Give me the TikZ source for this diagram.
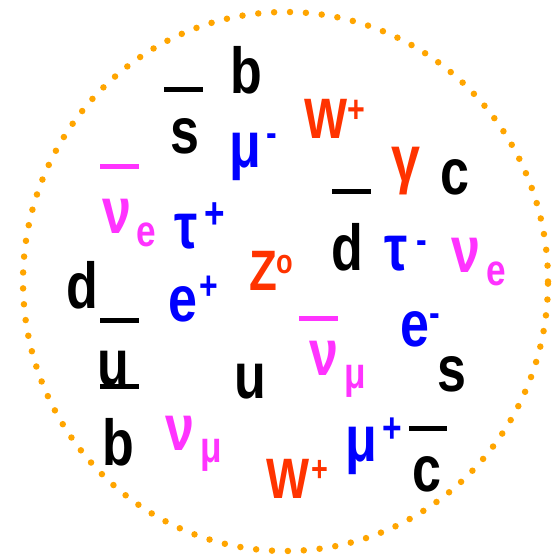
\documentclass[tikz,border=0pt]{standalone}
\usepackage{fontspec}
\setmainfont{Liberation Sans}[FakeStretch=0.8]
\usepackage{xcolor}
\usepackage{tikz}
\definecolor{bosred}{RGB}{255,51,0}
\definecolor{numag}{RGB}{255,51,255}
\definecolor{lepblue}{RGB}{0,0,255}
\definecolor{dotorange}{RGB}{255,165,0}

\begin{document}
\begin{tikzpicture}[
  x=1pt, y=-1pt,
  part/.style={inner sep=0pt, anchor=base west, font=\fontsize{65}{65}\selectfont\bfseries},
  quark/.style={part, text=black},
  lepton/.style={part, text=lepblue},
  neutrino/.style={part, text=numag},
  boson/.style={part, text=bosred, font=\fontsize{57}{57}\selectfont\bfseries},
  sup/.style={inner sep=0pt, anchor=base west, font=\fontsize{#1}{#1}\selectfont\bfseries},
  bar/.style={line width=5pt},
  ring/.style={draw=dotorange, line width=6.5pt, line cap=round, dash pattern=on 0pt off 15.9pt}
]
\useasboundingbox (0,0) rectangle (556,557);

% --- dotted boundary ---
\draw[ring] (285.5,281.5) ellipse [x radius=262.5pt, y radius=269.5pt];

% --- quarks ---
\node[quark] (btop)  at (230,93)    {b};
\node[quark] (sbar)  at (170,153)   {s};
\node[quark] (ctop)  at (440,194)   {c};
\node[quark] (dbar)  at (331,270)   {d};
\node[quark] (dleft) at (66,308)    {d};
\node[quark] (ubar)  at (97,385)    {u};
\node[quark] (umid)  at (234,398)   {u};
\node[quark] (sright) at (437,391)  {s};
\node[quark] (blow)  at (102,465)   {b};
\node[quark] (cbar)  at (412,491)   {c};

% --- charged leptons ---
\node[lepton] (muminus) at (229,167)   {μ};
\node[lepton] (tauplus) at (174,248)   {τ};
\node[lepton] (tauminus) at (384,270)  {τ};
\node[lepton] (eplus)   at (168,321)   {e};
\node[lepton] (eminus)  at (400,346)   {e};
\node[lepton] (muplus)  at (345,461)   {μ};
\node[sup=40, text=lepblue] (muminusch) at (266,146) {-};
\node[sup=44, text=lepblue] (tauplusch) at (204,228) {+};
\node[sup=40, text=lepblue] (tauminusch) at (416,253) {-};
\node[sup=40, text=lepblue] (eplusch)   at (199,299) {+};
\node[sup=40, text=lepblue] (eminusch)  at (429,326) {-};
\node[sup=42, text=lepblue] (muplusch)  at (382,442) {+};

% --- neutrinos ---
\node[neutrino] (nuebar) at (102,233) {ν};
\node[neutrino] (nueright) at (451,272) {ν};
\node[neutrino] (numubar) at (309,375) {ν};
\node[neutrino] (numulow) at (165,450) {ν};
\node[sup=44, text=numag] (nuebarfl)   at (136,246) {e};
\node[sup=44, text=numag] (nuerightfl) at (486,285) {e};
\node[sup=44, text=numag] (numubarfl)  at (344,388) {μ};
\node[sup=44, text=numag] (numulowfl)  at (200,462) {μ};

% --- gauge bosons ---
\node[boson] (wtop) at (304.5,138) {W};
\node[boson] (zzero) at (249,290)  {Z};
\node[boson] (wlow) at (266.5,498) {W};
\node[part, text=bosred] (gamma) at (391,181) {γ};
\node[sup=38, text=bosred] (wtopch)  at (347,122) {+};
\node[sup=34, text=bosred] (zzeroch) at (276,273) {o};
\node[sup=36, text=bosred] (wlowch)  at (311,481) {+};

% --- antiparticle bars ---
\draw[bar] (164,89.5) -- (203,89.5);
\draw[bar, numag] (100,166) -- (139,166);
\draw[bar] (332,191.5) -- (371,191.5);
\draw[bar] (100,320) -- (139,320);
\draw[bar] (100,386.5) -- (139,386.5);
\draw[bar, numag] (299,318) -- (338,318);
\draw[bar] (409,428.5) -- (447,428.5);

\end{tikzpicture}
\end{document}
